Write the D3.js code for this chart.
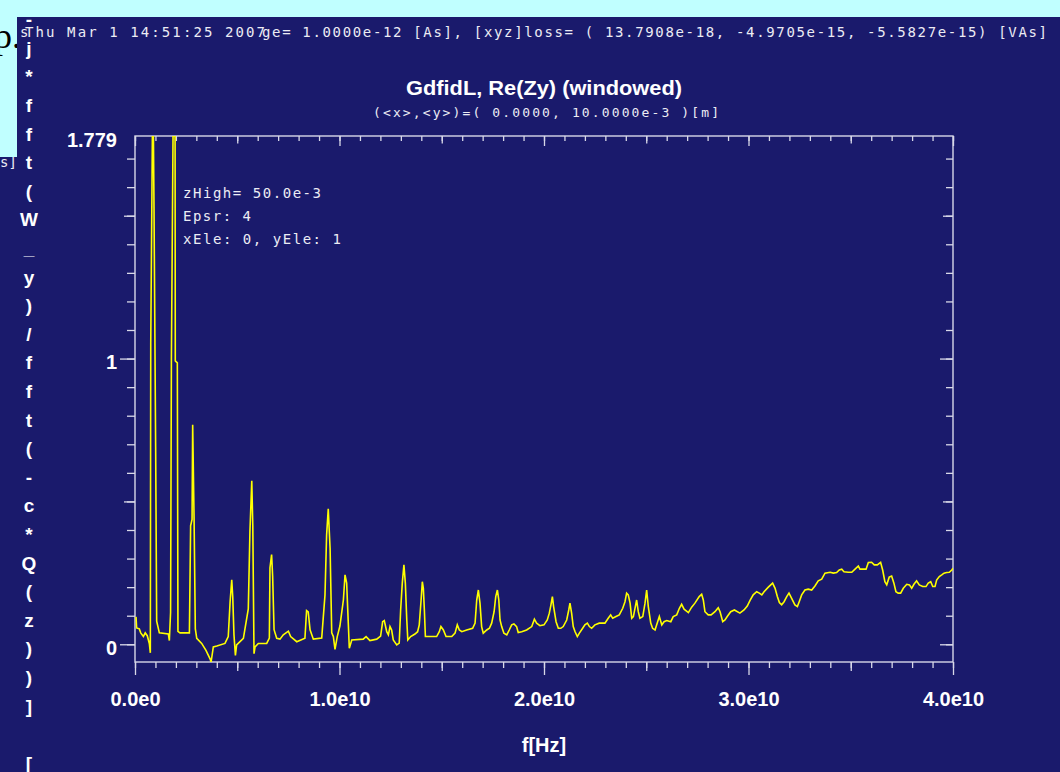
<!DOCTYPE html>
<html>
<head>
<meta charset="utf-8">
<script src="https://cdn.jsdelivr.net/npm/d3@7"></script>
<style>
  body { margin: 0; padding: 0; background: #1a1a6c; }
  svg { display: block; }
  .mono { font-family: "DejaVu Sans Mono", "Liberation Mono", monospace; fill: #ececf4; }
  .bold { font-family: "Liberation Sans", Arial, sans-serif; font-weight: bold; fill: #ffffff; }
</style>
</head>
<body>
<div id="chart"></div>
<script>
// frequency in GHz, value of Re(Zy)
var freqs = [0.05, 0.08, 0.21, 0.28, 0.41, 0.50, 0.60, 0.70, 0.75, 0.77, 0.85, 0.90, 0.93, 1.01, 1.06, 1.19,
  1.63, 1.68, 1.74, 1.78, 1.86, 1.96, 1.97, 2.07, 2.10, 2.20, 2.66, 2.72, 2.79, 2.82, 2.89, 2.95, 3.02,
  3.26, 3.47, 3.67, 3.72, 3.83, 4.00, 4.40, 4.56, 4.65, 4.73, 4.78, 4.84, 4.91, 4.97, 5.30, 5.54, 5.62,
  5.71, 5.76, 5.82, 5.87, 6.03, 6.44, 6.57, 6.60, 6.68, 6.73, 6.80, 6.93, 7.09, 7.25, 7.50, 7.61, 7.91,
  8.31, 8.39, 8.47, 8.56, 8.72, 9.13, 9.29, 9.37, 9.45, 9.54, 9.62, 9.70, 9.78, 9.89, 10.02, 10.19, 10.27,
  10.35, 10.43, 10.48, 10.60, 11.16, 11.30, 11.49, 11.82, 12.01, 12.11, 12.19, 12.31, 12.39, 12.47, 12.55,
  12.63, 12.80, 12.92, 12.99, 13.07, 13.15, 13.22, 13.29, 13.34, 13.48, 13.69, 13.82, 13.90, 13.99, 14.05,
  14.10, 14.15, 14.20, 14.34, 14.75, 14.88, 14.96, 15.08, 15.21, 15.49, 15.65, 15.76, 15.86, 15.98, 16.22,
  16.51, 16.63, 16.71, 16.79, 16.87, 16.95, 17.03, 17.20, 17.33, 17.44, 17.56, 17.64, 17.72, 17.79, 17.85,
  17.93, 18.04, 18.18, 18.30, 18.42, 18.53, 18.66, 18.74, 18.91, 19.15, 19.40, 19.53, 19.64, 19.80, 20.00,
  20.16, 20.26, 20.34, 20.41, 20.47, 20.59, 20.70, 20.82, 20.94, 21.11, 21.21, 21.27, 21.35, 21.43, 21.52,
  21.63, 21.73, 21.89, 22.00, 22.12, 22.22, 22.33, 22.49, 22.70, 22.98, 23.14, 23.26, 23.36, 23.52, 23.68,
  23.85, 23.96, 24.04, 24.12, 24.21, 24.29, 24.37, 24.45, 24.53, 24.61, 24.69, 24.83, 24.94, 25.02, 25.10,
  25.22, 25.31, 25.43, 25.51, 25.64, 25.76, 25.87, 26.00, 26.20, 26.32, 26.49, 26.62, 26.73, 26.85, 27.06,
  27.22, 27.38, 27.59, 27.71, 27.79, 27.87, 28.03, 28.17, 28.36, 28.52, 28.61, 28.74, 28.85, 28.96, 29.13,
  29.31, 29.58, 29.78, 29.94, 30.07, 30.23, 30.40, 30.53, 30.65, 30.76, 30.97, 31.18, 31.30, 31.41, 31.51,
  31.62, 31.74, 31.87, 31.98, 32.11, 32.27, 32.39, 32.48, 32.60, 32.76, 32.92, 33.09, 33.25, 33.41, 33.58,
  33.74, 33.99, 34.15, 34.31, 34.44, 34.56, 34.67, 34.88, 35.05, 35.21, 35.37, 35.45, 35.61, 35.75, 35.86,
  36.02, 36.15, 36.30, 36.46, 36.56, 36.67, 36.76, 36.88, 37.00, 37.11, 37.21, 37.32, 37.44, 37.57, 37.74,
  37.87, 37.98, 38.09, 38.22, 38.35, 38.52, 38.68, 38.79, 38.91, 39.01, 39.12, 39.20, 39.33, 39.45, 39.56,
  39.69, 39.82, 39.94, 40.00];

var values = [0.096, 0.057, 0.054, 0.040, 0.027, 0.040, 0.030, 0.003, -0.030, 1.055, 1.779, 1.779, 1.524, 0.690, 0.081, 0.040,
  0.036, 0.013, 0.112, 0.998, 1.779, 1.779, 0.992, 0.985, 0.045, 0.040, 0.040, 0.415, 0.437, 0.768, 0.432, 0.054, 0.021,
  0.003, -0.021, -0.051, -0.062, -0.009, -0.006, 0.003, 0.027, 0.148, 0.226, 0.165, 0.033, -0.039, -0.002, 0.021, 0.124, 0.395,
  0.572, 0.414, -0.033, -0.009, 0.003, 0.003, 0.022, 0.268, 0.314, 0.239, 0.051, 0.021, 0.018, 0.033, 0.046, 0.027, 0.009,
  0.021, 0.118, 0.113, 0.051, 0.018, 0.022, 0.172, 0.383, 0.474, 0.335, 0.040, 0.027, -0.018, 0.027, 0.064, 0.155, 0.243,
  0.214, 0.074, -0.014, 0.015, 0.018, 0.027, 0.013, 0.018, 0.029, 0.079, 0.083, 0.044, 0.033, 0.062, 0.050,
  0.015, -0.002, 0.004, 0.120, 0.214, 0.278, 0.214, 0.085, 0.015, 0.027, 0.036, 0.044, 0.068, 0.155, 0.219,
  0.196, 0.120, 0.027, 0.027, 0.027, 0.044, 0.062, 0.050, 0.027, 0.027, 0.039, 0.068, 0.050, 0.044, 0.050,
  0.056, 0.074, 0.155, 0.190, 0.144, 0.062, 0.039, 0.050, 0.056, 0.074, 0.114, 0.167, 0.190, 0.155, 0.085,
  0.062, 0.039, 0.033, 0.050, 0.068, 0.071, 0.062, 0.041, 0.044, 0.050, 0.062, 0.088, 0.074, 0.065, 0.068,
  0.085, 0.109, 0.138, 0.167, 0.132, 0.079, 0.056, 0.056, 0.062, 0.085, 0.120, 0.144, 0.109, 0.062, 0.044,
  0.027, 0.039, 0.056, 0.068, 0.074, 0.062, 0.056, 0.068, 0.074, 0.074, 0.091, 0.103, 0.091, 0.097, 0.103,
  0.126, 0.149, 0.179, 0.173, 0.144, 0.091, 0.097, 0.126, 0.155, 0.114, 0.091, 0.097, 0.144, 0.190, 0.132,
  0.074, 0.056, 0.050, 0.068, 0.097, 0.068, 0.079, 0.083, 0.079, 0.097, 0.103, 0.126, 0.140, 0.123, 0.111,
  0.130, 0.144, 0.167, 0.175, 0.155, 0.114, 0.103, 0.103, 0.114, 0.128, 0.114, 0.079, 0.085, 0.097, 0.114,
  0.120, 0.109, 0.120, 0.134, 0.153, 0.173, 0.184, 0.179, 0.173, 0.184, 0.200, 0.214, 0.196, 0.167, 0.146,
  0.138, 0.149, 0.167, 0.179, 0.161, 0.138, 0.132, 0.149, 0.173, 0.190, 0.193, 0.190, 0.204, 0.222, 0.228,
  0.249, 0.252, 0.249, 0.251, 0.260, 0.263, 0.254, 0.252, 0.252, 0.263, 0.274, 0.263, 0.263, 0.263, 0.286,
  0.287, 0.278, 0.278, 0.287, 0.260, 0.219, 0.208, 0.235, 0.239, 0.214, 0.184, 0.179, 0.179, 0.196, 0.210,
  0.208, 0.196, 0.210, 0.222, 0.208, 0.202, 0.202, 0.214, 0.219, 0.202, 0.202, 0.225, 0.237, 0.243, 0.249,
  0.251, 0.252, 0.260, 0.266];

var xTickValues = [0, 1e10, 2e10, 3e10, 4e10];
var xTickLabels = ["0.0e0", "1.0e10", "2.0e10", "3.0e10", "4.0e10"];
var yTickValues = [0, 1, 1.779];
var yTickLabels = ["0", "1", "1.779"];

var yLabelChars = ["-", "j", "*", "f", "f", "t", "(", "W", "_", "y", ")", "/", "f", "f", "t", "(", "-",
  "c", "*", "Q", "(", "z", ")", ")", "]", " ", "["];

var legendLines = ["zHigh= 50.0e-3", "Epsr: 4", "xEle: 0, yEle: 1"];

var width = 1060;
var height = 772;
var frame = { left: 135, right: 953, top: 136, bottom: 662 };
var axisColor = "#d8d8e8";

var svg = d3.select('#chart')
  .append('svg')
  .attr('width', width)
  .attr('height', height);

svg.append('rect')
  .attr('width', width)
  .attr('height', height)
  .attr('fill', '#1a1a6c');

var x = d3.scaleLinear()
  .domain([0, 4e10])
  .range([frame.left, frame.right]);

var y = d3.scaleLinear()
  .domain([-0.062, 1.779])
  .range([frame.bottom, frame.top]);

var data = freqs.map(function(f, i) {
  return { f: f * 1e9, v: values[i] };
});

// tick sets
var yMinor = d3.range(0, 18).map(function(i) { return i / 10; });
var yMid = [0.5, 1.5];
var yMajor = [0, 1];
var xMinor = d3.range(0, 41).map(function(i) { return i * 1e9; });
var xMid = [0.5e10, 1.5e10, 2.5e10, 3.5e10];

function ticks(axis, values, size) {
  return axis.tickValues(values).tickSize(size).tickFormat("");
}

function drawAxis(transform, axis) {
  var g = svg.append('g')
    .attr('transform', transform)
    .call(axis);
  g.select('.domain').remove();
  g.selectAll('line').attr('stroke', axisColor).attr('stroke-width', 1.3);
  return g;
}

// left, outward
drawAxis('translate(' + frame.left + ',0)', ticks(d3.axisLeft(y), yMinor, 8));
drawAxis('translate(' + frame.left + ',0)', ticks(d3.axisLeft(y), yMid, 11));
drawAxis('translate(' + frame.left + ',0)', ticks(d3.axisLeft(y), yMajor, 15));
// right, inward
drawAxis('translate(' + frame.right + ',0)', ticks(d3.axisLeft(y), yMinor, 7));
drawAxis('translate(' + frame.right + ',0)', ticks(d3.axisLeft(y), yMid, 10));
drawAxis('translate(' + frame.right + ',0)', ticks(d3.axisLeft(y), yMajor, 13));
// top, inward
drawAxis('translate(0,' + frame.top + ')', ticks(d3.axisBottom(x), xMinor, 5));
drawAxis('translate(0,' + frame.top + ')', ticks(d3.axisBottom(x), xMid, 7.5));
drawAxis('translate(0,' + frame.top + ')', ticks(d3.axisBottom(x), xTickValues, 10));
// bottom, outward
drawAxis('translate(0,' + frame.bottom + ')', ticks(d3.axisBottom(x), xMinor, 6));
drawAxis('translate(0,' + frame.bottom + ')', ticks(d3.axisBottom(x), xMid, 9));
drawAxis('translate(0,' + frame.bottom + ')', ticks(d3.axisBottom(x), xTickValues, 13));

// tick labels
var yLab = drawAxis('translate(' + frame.left + ',0)',
  d3.axisLeft(y).tickValues(yTickValues).tickSize(0).tickPadding(18)
    .tickFormat(function(d, i) { return yTickLabels[i]; }));
yLab.selectAll('text')
  .attr('class', 'bold')
  .attr('dy', '0.5em')
  .style('font-size', '20px');

var xLab = drawAxis('translate(0,' + frame.bottom + ')',
  d3.axisBottom(x).tickValues(xTickValues).tickSize(0).tickPadding(30)
    .tickFormat(function(d, i) { return xTickLabels[i]; }));
xLab.selectAll('text')
  .attr('class', 'bold')
  .style('font-size', '20px');

// frame
svg.append('rect')
  .attr('x', frame.left)
  .attr('y', frame.top)
  .attr('width', frame.right - frame.left)
  .attr('height', frame.bottom - frame.top)
  .attr('fill', 'none')
  .attr('stroke', axisColor)
  .attr('stroke-width', 1.4);

svg.append('clipPath')
  .attr('id', 'plot-clip')
  .append('rect')
  .attr('x', frame.left)
  .attr('y', frame.top)
  .attr('width', frame.right - frame.left)
  .attr('height', frame.bottom - frame.top);

var line = d3.line()
  .x(function(d) { return x(d.f); })
  .y(function(d) { return y(d.v); });

svg.append('path')
  .datum(data)
  .attr('clip-path', 'url(#plot-clip)')
  .attr('fill', 'none')
  .attr('stroke', '#ffff00')
  .attr('stroke-width', 1.6)
  .attr('stroke-linejoin', 'miter')
  .attr('d', line);

// legend block
svg.selectAll('.legend')
  .data(legendLines)
  .enter()
  .append('text')
  .attr('class', 'mono legend')
  .attr('x', 183)
  .attr('y', function(d, i) { return 198 + i * 23; })
  .attr('textLength', function(d) { return d.length * 10 - 2; })
  .attr('lengthAdjust', 'spacing')
  .style('font-size', '14px')
  .text(function(d) { return d; });

// title
svg.append('text')
  .attr('class', 'bold')
  .attr('x', 406)
  .attr('y', 95)
  .attr('textLength', 276)
  .attr('lengthAdjust', 'spacingAndGlyphs')
  .style('font-size', '20px')
  .text('GdfidL, Re(Zy) (windowed)');

svg.append('text')
  .attr('class', 'mono')
  .attr('x', 373)
  .attr('y', 117)
  .attr('textLength', 346)
  .attr('lengthAdjust', 'spacing')
  .style('font-size', '13px')
  .text('(<x>,<y>)=( 0.0000, 10.0000e-3 )[m]');

// x label
svg.append('text')
  .attr('class', 'bold')
  .attr('x', 544)
  .attr('y', 752)
  .attr('text-anchor', 'middle')
  .style('font-size', '20px')
  .text('f[Hz]');

// vertical y label, one char per line
svg.selectAll('.ychar')
  .data(yLabelChars)
  .enter()
  .append('text')
  .attr('class', 'bold ychar')
  .attr('x', 29)
  .attr('y', function(d, i) { return 19.6 + i * 28.6; })
  .attr('dy', '0.35em')
  .attr('text-anchor', 'middle')
  .style('font-size', '19px')
  .text(function(d) { return d; });

// header lines (overlapping, as in the original)
svg.append('text')
  .attr('class', 'mono')
  .attr('x', 20)
  .attr('y', 37)
  .style('font-size', '14px')
  .text('s');

svg.append('text')
  .attr('class', 'mono')
  .attr('x', 25)
  .attr('y', 37)
  .attr('textLength', 240)
  .attr('lengthAdjust', 'spacing')
  .style('font-size', '14px')
  .text('Thu Mar  1 14:51:25 2007');

svg.append('text')
  .attr('class', 'mono')
  .attr('x', 262)
  .attr('y', 37)
  .attr('textLength', 785)
  .attr('lengthAdjust', 'spacing')
  .style('font-size', '14px')
  .text('ge= 1.0000e-12 [As], [xyz]loss= ( 13.7908e-18, -4.9705e-15, -5.5827e-15) [VAs]');

svg.append('text')
  .attr('class', 'mono')
  .attr('x', 0)
  .attr('y', 167)
  .attr('textLength', 17)
  .attr('lengthAdjust', 'spacing')
  .style('font-size', '14px')
  .text('s]');

// page background bits around the plot
svg.append('rect')
  .attr('x', 0).attr('y', 0)
  .attr('width', width).attr('height', 17)
  .attr('fill', '#c0ffff');

svg.append('rect')
  .attr('x', 0).attr('y', 0)
  .attr('width', 17).attr('height', 157)
  .attr('fill', '#c0ffff');

svg.append('clipPath')
  .attr('id', 'box-clip')
  .append('rect')
  .attr('x', 0).attr('y', 0)
  .attr('width', 17).attr('height', 157);

svg.append('text')
  .attr('clip-path', 'url(#box-clip)')
  .attr('x', -6)
  .attr('y', 48)
  .style('font-family', '"Liberation Serif", "Times New Roman", serif')
  .style('font-size', '36px')
  .attr('fill', '#000000')
  .text('p.');
</script>
</body>
</html>
